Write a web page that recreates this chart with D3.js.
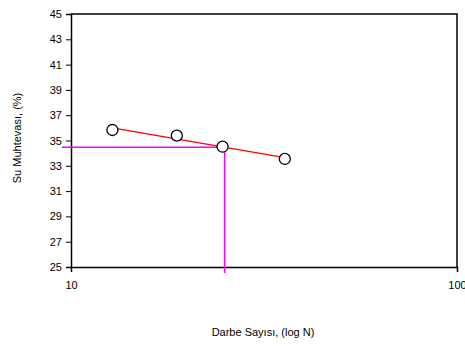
<!DOCTYPE html>
<meta charset="utf-8">
<script src="https://cdn.jsdelivr.net/npm/d3@7"></script>
<style>
body { margin: 0; background: #fff; }
text { font-family: "Liberation Sans", Arial, sans-serif; fill: #000; }
</style>
<body>
<script>

// data
var blows = [12.8, 18.8, 24.7, 35.8];      // Darbe Sayısı N
var water = [35.83, 35.38, 34.51, 33.54];   // Su Muhtevası %
var yTicks = [25, 27, 29, 31, 33, 35, 37, 39, 41, 43, 45];
var xTicks = [10, 100];
var liquidN = 25, liquidW = 34.47;          // magenta reading lines

var width = 465, height = 346;
var margin = {top: 14, right: 8, bottom: 79, left: 71};

var svg = d3.select("body").append("svg")
    .attr("width", width)
    .attr("height", height);

var x = d3.scaleLog().domain([10, 100]).range([margin.left, width - margin.right]);
var y = d3.scaleLinear().domain([25, 45]).range([height - margin.bottom, margin.top]);

// plot frame (top + right)
svg.append("path")
    .attr("d", "M" + x(10) + "," + y(45) + "H" + x(100) + "V" + y(25))
    .attr("fill", "none")
    .attr("stroke", "#000")
    .attr("stroke-width", 1.5);

// y axis
var yAxis = svg.append("g")
    .attr("transform", "translate(" + x(10) + ",0)")
    .call(d3.axisLeft(y).tickValues(yTicks).tickSize(5).tickPadding(4).tickFormat(d3.format("d")));
yAxis.select(".domain").attr("stroke-width", 1.5);
yAxis.selectAll("text").style("font-size", "11px");

// x axis
var xAxis = svg.append("g")
    .attr("transform", "translate(0," + y(25) + ")")
    .call(d3.axisBottom(x).tickValues(xTicks).tickSize(5).tickPadding(9).tickFormat(d3.format("d")));
xAxis.select(".domain").attr("stroke-width", 1.5);
xAxis.selectAll("text").style("font-size", "11px");

// magenta reading lines
svg.append("path")
    .attr("d", "M" + (x(10) - 9) + "," + y(liquidW) + "H" + x(liquidN) + "V" + (y(25) + 6))
    .attr("fill", "none")
    .attr("stroke", "#ff00ff")
    .attr("stroke-width", 1.5);

// log trend line (least squares on log10 N)
var lx = blows.map(function(d) { return Math.log10(d); });
var mx = d3.mean(lx), my = d3.mean(water);
var b = d3.sum(lx, function(d, i) { return (d - mx) * (water[i] - my); }) /
        d3.sum(lx, function(d) { return (d - mx) * (d - mx); });
var a = my - b * mx;
var ends = [d3.min(blows), d3.max(blows)];
svg.append("line")
    .attr("x1", x(ends[0])).attr("y1", y(a + b * Math.log10(ends[0])))
    .attr("x2", x(ends[1])).attr("y2", y(a + b * Math.log10(ends[1])))
    .attr("stroke", "#ff0000")
    .attr("stroke-width", 1.5);

// points
svg.selectAll("circle")
    .data(blows)
    .enter().append("circle")
    .attr("cx", function(d) { return x(d); })
    .attr("cy", function(d, i) { return y(water[i]); })
    .attr("r", 5.5)
    .attr("fill", "#fff")
    .attr("stroke", "#000")
    .attr("stroke-width", 1.3);

// axis titles
svg.append("text")
    .attr("transform", "translate(21," + 138 + ") rotate(-90)")
    .attr("text-anchor", "middle")
    .style("font-size", "11px")
    .text("Su Muhtevası, (%)");

svg.append("text")
    .attr("x", 263)
    .attr("y", 336)
    .attr("text-anchor", "middle")
    .style("font-size", "11px")
    .text("Darbe Sayısı, (log N)");

</script>
</body>
